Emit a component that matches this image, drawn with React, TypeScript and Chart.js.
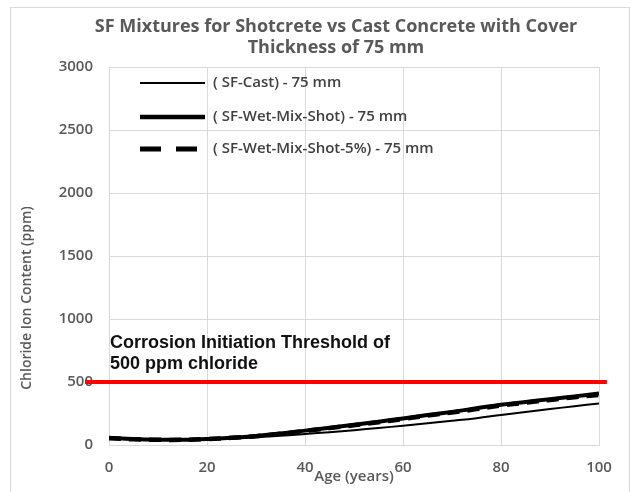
import React, { useEffect, useRef } from "react";
import { Chart, registerables } from "chart.js";

Chart.register(...registerables);

const years = [0, 5, 10, 15, 20, 25, 30, 35, 40, 45, 50, 55, 60, 65, 70, 75, 80, 85, 90, 95, 100];
const sfCast = [52, 45, 40, 40, 44, 51, 61, 73, 87, 102, 118, 135, 153, 172, 192, 213, 238, 262, 285, 308, 330];
const sfWetMixShot = [58, 47, 42, 42, 48, 58, 72, 91, 114, 137, 160, 185, 211, 238, 263, 291, 320, 342, 364, 386, 408];
const sfWetMixShot5 = [54, 45, 41, 41, 47, 57, 70, 89, 111, 134, 157, 181, 206, 233, 258, 285, 313, 336, 358, 379, 398];
const thresholdX = [-4.9, 101.6];
const thresholdY = [500, 500];

const seriesLabels = ["( SF-Cast) - 75 mm", "( SF-Wet-Mix-Shot) - 75 mm", "( SF-Wet-Mix-Shot-5%) - 75 mm"];
const titleLines = ["SF Mixtures for Shotcrete vs Cast Concrete with Cover", "Thickness of 75 mm"];
const noteLines = ["Corrosion Initiation Threshold of", "500 ppm chloride"];
const xTitle = "Age (years)";
const yTitle = "Chloride Ion Content (ppm)";

const toXY = (xs: number[], ys: number[]) => xs.map((x, i) => ({ x, y: ys[i] }));

const decorPlugin = {
  id: "decor",
  beforeDraw(chart: any) {
    const ctx = chart.ctx;
    ctx.save();
    ctx.fillStyle = "#ffffff";
    ctx.fillRect(0, 0, chart.width, chart.height);
    ctx.strokeStyle = "#d9d9d9";
    ctx.lineWidth = 1;
    ctx.strokeRect(10.5, 7.5, 619, 490);
    ctx.restore();
  },
  afterDraw(chart: any) {
    const ctx = chart.ctx;
    const area = chart.chartArea;
    ctx.save();
    // title
    ctx.fillStyle = "#595959";
    ctx.font = "bold 18px 'Open Sans'";
    ctx.textAlign = "center";
    ctx.textBaseline = "middle";
    ctx.fillText(titleLines[0], 336, 27);
    ctx.fillText(titleLines[1], 336, 48);
    // axis titles
    ctx.font = "600 15px 'Open Sans'";
    ctx.fillText(xTitle, 354, 477);
    ctx.save();
    ctx.translate(27, 298);
    ctx.rotate(-Math.PI / 2);
    ctx.font = "600 14px 'Open Sans'";
    ctx.fillText(yTitle, 0, 0);
    ctx.restore();
    // note
    ctx.fillStyle = "#111111";
    ctx.font = "bold 18px 'Liberation Sans'";
    ctx.textAlign = "left";
    ctx.fillText(noteLines[0], area.left + 1, 343);
    ctx.fillText(noteLines[1], area.left + 1, 364);
    // legend
    const rows = [83, 117, 149];
    const widths = [2, 4.5, 5];
    ctx.strokeStyle = "#000000";
    ctx.lineCap = "butt";
    rows.forEach((y, i) => {
      ctx.beginPath();
      ctx.lineWidth = widths[i];
      if (i === 2) ctx.setLineDash([21, 15]);
      else ctx.setLineDash([]);
      ctx.moveTo(140, y);
      ctx.lineTo(205, y);
      ctx.stroke();
    });
    ctx.setLineDash([]);
    ctx.fillStyle = "#404040";
    ctx.font = "600 15px 'Open Sans'";
    rows.forEach((y, i) => ctx.fillText(seriesLabels[i], 213, y));
    ctx.restore();
  },
};

const tickFont = { family: "'Open Sans'", size: 15, weight: 600 as any };

export default function App() {
  const ref = useRef<HTMLCanvasElement>(null);
  useEffect(() => {
    if (!ref.current) return;
    const chart = new Chart(ref.current, {
      type: "line",
      data: {
        datasets: [
          {
            label: "threshold",
            data: toXY(thresholdX, thresholdY),
            borderColor: "#ff0000",
            borderWidth: 4,
            pointRadius: 0,
            clip: false as any,
          },
          {
            label: seriesLabels[0],
            data: toXY(years, sfCast),
            borderColor: "#000000",
            borderWidth: 2,
            pointRadius: 0,
            tension: 0.4,
          },
          {
            label: seriesLabels[1],
            data: toXY(years, sfWetMixShot),
            borderColor: "#000000",
            borderWidth: 4,
            pointRadius: 0,
            tension: 0.4,
          },
          {
            label: seriesLabels[2],
            data: toXY(years, sfWetMixShot5),
            borderColor: "#000000",
            borderWidth: 4.5,
            borderDash: [12, 8],
            pointRadius: 0,
            tension: 0.4,
          },
        ],
      },
      options: {
        responsive: false,
        animation: false,
        layout: { padding: { left: 0, top: 67, right: 37, bottom: 0 } },
        plugins: { legend: { display: false }, tooltip: { enabled: false }, title: { display: false } },
        scales: {
          x: {
            type: "linear",
            min: 0,
            max: 100,
            ticks: { stepSize: 20, padding: 14, color: "#595959", font: tickFont, callback: (v: any) => String(v) },
            grid: { color: "#d9d9d9", drawTicks: false },
            border: { color: "#d9d9d9" },
            afterFit: (s: any) => { s.height = 47; },
          },
          y: {
            type: "linear",
            min: 0,
            max: 3000,
            ticks: { stepSize: 500, padding: 16, color: "#595959", font: tickFont, callback: (v: any) => String(v) },
            grid: { color: "#d9d9d9", drawTicks: false },
            border: { color: "#d9d9d9" },
            afterFit: (s: any) => { s.width = 109; },
          },
        },
      },
      plugins: [decorPlugin],
    });
    return () => chart.destroy();
  }, []);
  return (
    <div style={{ position: "fixed", left: 0, top: 0, width: 636, height: 492 }}>
      <canvas ref={ref} width={636} height={492} />
    </div>
  );
}
